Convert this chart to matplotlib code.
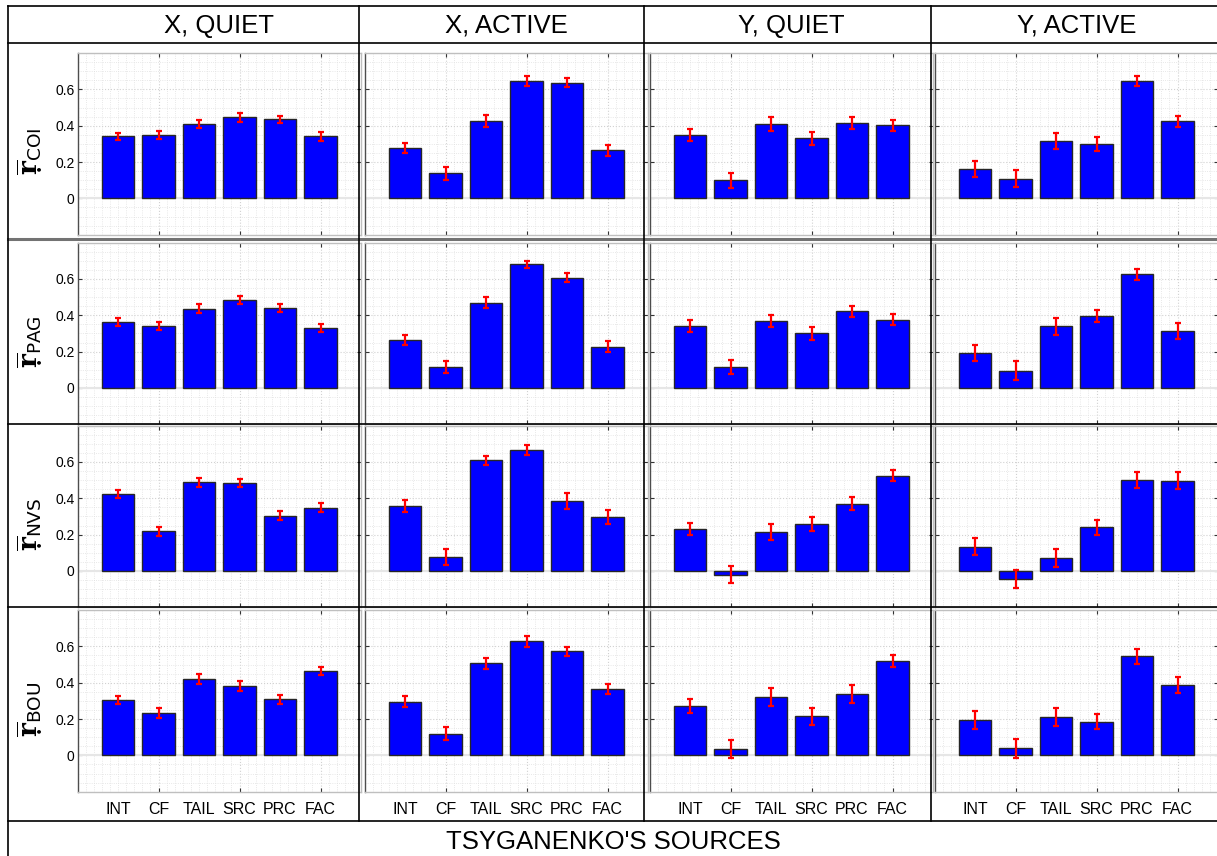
import matplotlib
matplotlib.use("Agg")
import matplotlib.pyplot as plt
from matplotlib.lines import Line2D
from matplotlib.ticker import MultipleLocator, FixedLocator
import matplotlib.transforms as mtransforms

plt.rcParams['font.family'] = ['Liberation Sans', 'DejaVu Sans']
plt.rcParams['mathtext.fontset'] = 'dejavuserif'

sources = ["INT", "CF", "TAIL", "SRC", "PRC", "FAC"]
columns = ["X, QUIET", "X, ACTIVE", "Y, QUIET", "Y, ACTIVE"]
stations = ["COI", "PAG", "NVS", "BOU"]

# mean correlation, one list per column (X quiet, X active, Y quiet, Y active)
coi = [[0.341, 0.347, 0.409, 0.447, 0.435, 0.341],
       [0.275, 0.138, 0.424, 0.646, 0.637, 0.264],
       [0.347, 0.099, 0.410, 0.330, 0.414, 0.402],
       [0.163, 0.108, 0.315, 0.299, 0.646, 0.424]]
coi_err = [[0.021, 0.023, 0.024, 0.024, 0.021, 0.023],
           [0.028, 0.037, 0.034, 0.025, 0.023, 0.030],
           [0.033, 0.040, 0.038, 0.036, 0.034, 0.031],
           [0.045, 0.047, 0.044, 0.040, 0.030, 0.031]]

pag = [[0.365, 0.341, 0.436, 0.486, 0.440, 0.332],
       [0.264, 0.116, 0.470, 0.680, 0.607, 0.226],
       [0.341, 0.116, 0.370, 0.300, 0.421, 0.376],
       [0.193, 0.095, 0.339, 0.396, 0.625, 0.314]]
pag_err = [[0.022, 0.024, 0.024, 0.022, 0.024, 0.022],
           [0.028, 0.033, 0.030, 0.021, 0.026, 0.030],
           [0.031, 0.038, 0.032, 0.035, 0.031, 0.030],
           [0.043, 0.052, 0.045, 0.034, 0.029, 0.045]]

nvs = [[0.424, 0.218, 0.488, 0.484, 0.303, 0.349],
       [0.356, 0.077, 0.609, 0.666, 0.385, 0.295],
       [0.231, -0.020, 0.215, 0.259, 0.369, 0.523],
       [0.134, -0.044, 0.073, 0.240, 0.500, 0.497]]
nvs_err = [[0.020, 0.025, 0.025, 0.021, 0.025, 0.023],
           [0.033, 0.044, 0.026, 0.026, 0.046, 0.039],
           [0.033, 0.045, 0.043, 0.040, 0.036, 0.030],
           [0.048, 0.052, 0.050, 0.042, 0.043, 0.047]]

bou = [[0.303, 0.233, 0.422, 0.380, 0.308, 0.464],
       [0.295, 0.119, 0.506, 0.627, 0.572, 0.365],
       [0.271, 0.036, 0.321, 0.216, 0.336, 0.520],
       [0.194, 0.038, 0.213, 0.185, 0.545, 0.387]]
bou_err = [[0.023, 0.030, 0.027, 0.028, 0.026, 0.024],
           [0.029, 0.035, 0.031, 0.028, 0.027, 0.028],
           [0.039, 0.049, 0.050, 0.047, 0.050, 0.034],
           [0.048, 0.050, 0.050, 0.042, 0.040, 0.044]]

values = [coi, pag, nvs, bou]
errors = [coi_err, pag_err, nvs_err, bou_err]

W, H = 1217, 856
fig = plt.figure(figsize=(W / 100, H / 100), dpi=100)

# layout in pixels
ax_left = [77.5, 364.5, 649.5, 934.5]
ax_top = [53, 242.6, 425.6, 610]
ax_w, ax_h = 283.5, 181.7

x = list(range(1, len(sources) + 1))

for r in range(4):
    for c in range(4):
        rect = [ax_left[c] / W, 1 - (ax_top[r] + ax_h) / H, ax_w / W, ax_h / H]
        ax = fig.add_axes(rect)
        ax.set_axisbelow(True)
        ax.bar(x, values[r][c], width=0.8, color='#0000ff', edgecolor='0.15', linewidth=1, zorder=2)
        ax.errorbar(x, values[r][c], yerr=errors[r][c], fmt='none', ecolor='red',
                    elinewidth=1.6, capsize=2.5, capthick=1.6, zorder=3)
        ax.axhline(0, color='0.9', lw=1.5, zorder=1)
        ax.set_xlim(0, 7)
        ax.set_ylim(-0.2, 0.8)

        ax.xaxis.set_major_locator(FixedLocator([2, 4, 6]))
        ax.xaxis.set_minor_locator(MultipleLocator(0.2))
        ax.yaxis.set_major_locator(FixedLocator([0, 0.2, 0.4, 0.6]))
        ax.yaxis.set_minor_locator(MultipleLocator(0.05))
        ax.grid(which='major', color='0.82', linestyle=':', linewidth=0.8)
        ax.grid(which='minor', color='0.88', linestyle=':', linewidth=0.6)
        ax.tick_params(which='major', direction='in', length=3, width=0.8, color='0.2',
                       top=True, right=True, labelbottom=False)
        ax.tick_params(which='minor', length=0)

        if c == 0:
            ax.set_yticklabels(['0', '0.2', '0.4', '0.6'], fontsize=10)
            ax.tick_params(axis='y', pad=2)
            fig.text(30 / W, 1 - (ax_top[r] + ax_h / 2 + 8) / H,
                     r'$\overline{\mathbf{ṛ}}_{\mathsf{' + stations[r] + '}}$',
                     rotation=90, ha='center', va='center', fontsize=19)
        else:
            ax.set_yticklabels([])

        for side in ['left', 'top', 'right', 'bottom']:
            ax.spines[side].set_color('0.75')
            ax.spines[side].set_linewidth(1)
        ax.spines['left'].set_color('0.3')

        if r == 3:
            trans = mtransforms.blended_transform_factory(ax.transData, ax.transAxes)
            for xi, name in zip(x, sources):
                ax.text(xi, -0.096, name, transform=trans, ha='center', va='center',
                        fontsize=11.5, clip_on=False)

        if r == 0:
            fig.text((ax_left[c] + ax_w / 2) / W, 1 - 26 / H, columns[c],
                     ha='center', va='center', fontsize=18.5)

fig.text(613 / W, 1 - 842 / H, "TSYGANENKO'S SOURCES", ha='center', va='center', fontsize=18.5)

# table lines
def hline(y, x0=8, x1=1217, color='black', lw=1.2):
    fig.add_artist(Line2D([x0 / W, x1 / W], [1 - y / H, 1 - y / H], color=color, lw=lw))

def vline(x, y0=6, y1=821):
    fig.add_artist(Line2D([x / W, x / W], [1 - y0 / H, 1 - y1 / H], color='black', lw=1.2))

for y in [6, 43.3, 424, 607, 821]:
    hline(y)
hline(239, color='0.45', lw=2.2)
vline(8, 6, 856)
for xv in [359.3, 644, 931]:
    vline(xv)

fig.savefig("out.png", dpi=100)
